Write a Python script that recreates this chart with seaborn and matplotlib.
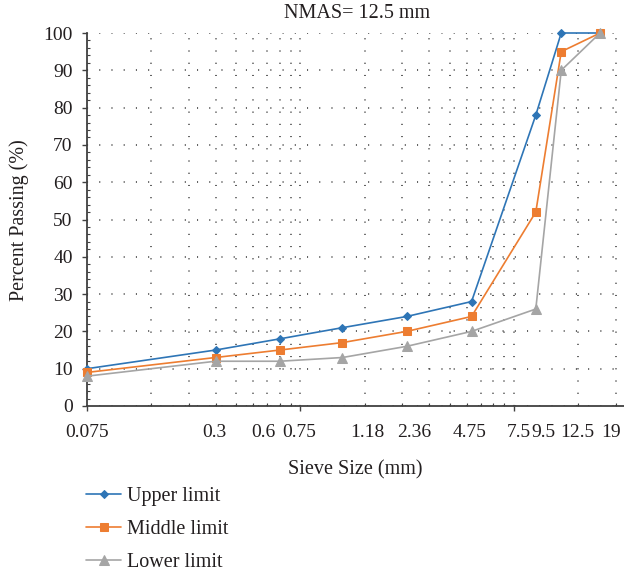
import numpy as np
import pandas as pd
import matplotlib
matplotlib.use("Agg")
import matplotlib.pyplot as plt
import matplotlib.transforms as mtransforms
from matplotlib.ticker import FixedLocator, MultipleLocator, NullFormatter
import seaborn as sns

# ---- data ----
sieve = [0.075, 0.3, 0.6, 1.18, 2.36, 4.75, 9.5, 12.5, 19]
upper = [10, 15, 18, 21, 24, 28, 78, 100, 100]
middle = [9, 13, 15, 17, 20, 24, 52, 95, 100]
lower = [8, 12, 12, 13, 16, 20, 26, 90, 100]
series_names = ["Upper limit", "Middle limit", "Lower limit"]
tick_values = [0.075, 0.3, 0.6, 0.75, 1.18, 2.36, 4.75, 7.5, 9.5, 12.5, 19]
tick_labels = ["0.075", "0.3", "0.6", "0.75", "1.18", "2.36", "4.75", "7.5", "9.5", "12.5", "19"]
# pixel nudges of the printed labels (layout only)
tick_nudge = [0, -1, -16, -1, 25, 7, -2, 5, 8, 16, 11]
title = "NMAS= 12.5 mm"
xlabel = "Sieve Size (mm)"
ylabel = "Percent Passing (%)"

sns.set_style("white")
plt.rcParams['font.family'] = ['Liberation Serif', 'DejaVu Serif']

DPI = 100
fig = plt.figure(figsize=(6.24, 5.75), dpi=DPI)
ax = fig.add_axes([87/624, 169/575, 537/624, 373/575])

colors = ["#2E75B6", "#ED7D31", "#A5A5A5"]
markers = ["D", "s", "^"]
msizes = [4.5, 6, 6.5]
for vals, name, c, m, ms in zip([upper, middle, lower], series_names, colors, markers, msizes):
    sns.lineplot(x=sieve, y=vals, ax=ax, color=c, marker=m, markersize=ms,
                 markeredgecolor=c, linewidth=1.2, label=name, clip_on=False,
                 zorder=3)

ax.set_xscale('log')
ax.set_xlim(0.075, 24.6)
ax.set_ylim(0, 100)

# ticks
ax.xaxis.set_major_locator(FixedLocator([0.075, 0.75, 7.5]))
minor_x = [k * b for b in (0.075, 0.75, 7.5) for k in range(2, 10)]
ax.xaxis.set_minor_locator(FixedLocator(minor_x))
ax.xaxis.set_major_formatter(NullFormatter())
ax.xaxis.set_minor_formatter(NullFormatter())
ax.yaxis.set_major_locator(MultipleLocator(10))
ax.yaxis.set_minor_locator(MultipleLocator(2))
ax.tick_params(axis='both', which='major', direction='out', length=3.8, width=1.0,
               color='#404040', labelsize=14, labelcolor='#231f20')
ax.tick_params(axis='y', which='major', pad=6.5, left=True)
ax.tick_params(axis='x', which='major', bottom=True)
ax.tick_params(axis='both', which='minor', direction='in', length=2.0, width=0.8,
               color='#404040', left=True, bottom=True)

for s in ['top', 'right']:
    ax.spines[s].set_visible(False)
for s in ['left', 'bottom']:
    ax.spines[s].set_color('#404040')
    ax.spines[s].set_linewidth(1.3)

# dotted grid
grid_kw = dict(color='#333333', linewidth=1.1, linestyle=(0, (0.7, 7.3)))
ax.grid(True, which='major', axis='y', **grid_kw)
ax.grid(True, which='both', axis='x', **grid_kw)
ax.set_axisbelow(True)

# x tick labels as text placed at their values
base = mtransforms.blended_transform_factory(ax.transData, ax.transAxes)
for v, lab, dx in zip(tick_values, tick_labels, tick_nudge):
    tr = base + mtransforms.ScaledTranslation(dx / DPI, -31 / DPI, fig.dpi_scale_trans)
    ax.text(v, 0, lab, transform=tr, ha='center', va='baseline', fontsize=14,
            color='#231f20', clip_on=False)

ax.set_xlabel("")
ax.set_ylabel("")
fig.text(357/624, 1 - 18/575, title, ha='center', va='baseline', fontsize=14.5, color='#231f20')
fig.text(355/624, 1 - 474/575, xlabel, ha='center', va='baseline', fontsize=14.5, color='#231f20')
fig.text(19/624, 1 - 220/575, ylabel, ha='center', va='center', rotation=90, fontsize=14.5, color='#231f20')

handles, labels = ax.get_legend_handles_labels()
ax.legend(handles, labels, loc='upper left', bbox_to_anchor=(86/624, 1 - 487/575),
          bbox_transform=fig.transFigure, frameon=False, borderpad=0, borderaxespad=0,
          handlelength=1.75, handletextpad=0.3, labelspacing=0.68, fontsize=14.5,
          labelcolor='#231f20')

fig.savefig("out.png", dpi=DPI)
